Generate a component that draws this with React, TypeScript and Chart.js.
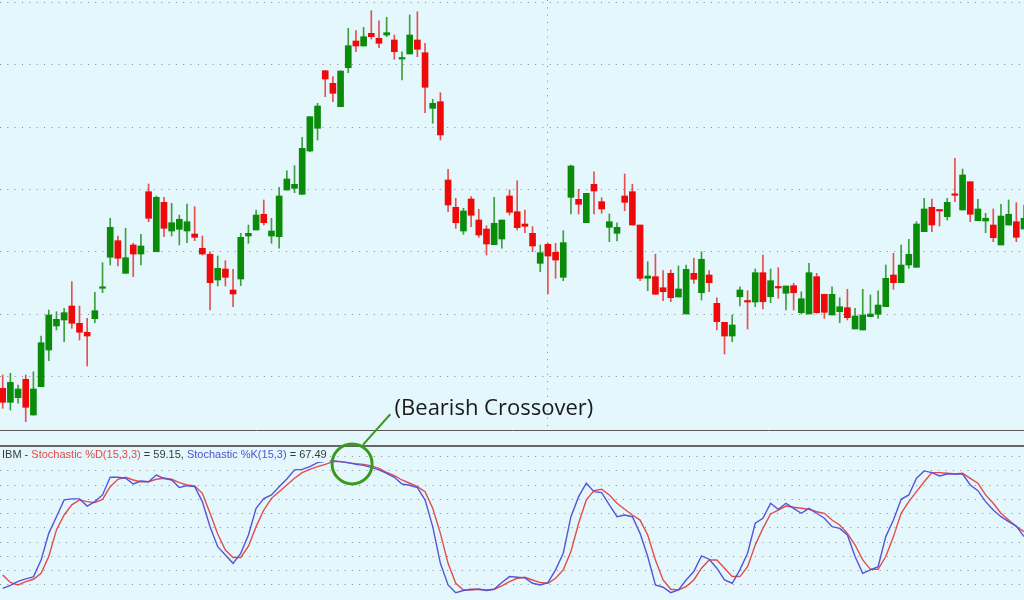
import React, { useEffect, useRef } from 'react';
import { Chart, registerables } from 'chart.js';

Chart.register(...registerables);

// ---------- data ----------
const opens = [
  98.14, 95.9, 96.64, 99.58, 93.86, 98.4, 104.28, 108.13, 109.09, 111.33,
  108.56, 107.12, 109.3, 114.17, 119.14, 121.8, 116.57, 121.11, 119.66, 129.65,
  120.03, 127.95, 123.35, 123.62, 123.35, 122.87, 120.58, 119.62, 115.5, 117.26,
  113.9, 115.66, 122.55, 123.51, 126.03, 122.55, 122.44, 129.92, 130.19, 129.23,
  136.17, 139.81, 149.04, 147.02, 143.27, 149.52, 153.8, 153.0, 155.03, 154.23,
  154.76, 153.96, 150.91, 151.72, 153.96, 151.92, 143.01, 144.07, 131.52, 127.15,
  123.35, 128.48, 125.11, 123.67, 121.16, 122.07, 128.96, 126.44, 124.47, 122.98,
  118.17, 121.22, 119.94, 115.93, 128.75, 128.43, 124.68, 130.83, 128.05, 123.94,
  122.98, 128.96, 129.65, 124.31, 115.77, 116.03, 114.26, 116.57, 112.77, 110.05,
  116.57, 113.46, 116.3, 111.76, 108.72, 106.52, 112.82, 112.13, 111.97, 116.67,
  112.82, 114.42, 113.37, 114.58, 110.26, 110.05, 116.03, 113.21, 109.89, 110.42,
  111.06, 107.65, 107.49, 109.62, 110.0, 111.22, 116.3, 115.07, 117.9, 117.53,
  123.24, 127.15, 126.72, 125.64, 129.28, 126.72, 131.25, 125.0, 124.95, 124.31,
  121.11, 124.31, 124.84, 123.67,
];
const highs = [
  100.27, 100.55, 98.67, 100.27, 100.8, 106.52, 110.69, 110.42, 110.96, 115.23,
  111.33, 109.36, 113.53, 118.27, 125.39, 122.55, 123.78, 121.38, 122.82, 130.88,
  128.96, 128.75, 127.79, 125.91, 127.68, 127.24, 122.55, 120.03, 119.34, 118.59,
  117.21, 122.98, 124.31, 126.72, 128.32, 125.39, 130.35, 133.01, 133.82, 138.37,
  141.67, 143.82, 149.04, 148.08, 148.99, 155.83, 155.45, 155.99, 158.66, 157.05,
  157.6, 154.76, 152.08, 157.97, 158.49, 153.43, 144.46, 145.51, 133.24, 128.59,
  126.99, 128.85, 126.83, 124.2, 128.75, 125.11, 129.92, 131.41, 126.72, 124.04,
  121.11, 121.38, 121.38, 123.4, 133.93, 130.03, 129.39, 132.85, 128.69, 126.08,
  124.68, 132.49, 130.83, 124.31, 118.43, 119.62, 116.99, 117.1, 117.74, 117.9,
  118.98, 120.03, 116.99, 112.66, 108.72, 109.89, 114.42, 113.78, 117.26, 119.5,
  117.26, 117.47, 114.54, 114.97, 113.62, 118.18, 116.57, 113.21, 114.42, 112.66,
  114.01, 110.96, 114.01, 113.09, 113.78, 117.9, 119.78, 121.11, 122.02, 124.84,
  128.59, 128.48, 126.72, 128.59, 135.0, 133.29, 131.25, 128.43, 126.19, 126.88,
  127.63, 128.32, 127.89, 127.52,
];
const lows = [
  94.94, 94.66, 95.74, 92.79, 93.86, 98.4, 102.57, 107.49, 105.61, 107.76,
  105.88, 101.72, 108.66, 113.46, 117.9, 117.74, 116.57, 116.03, 117.9, 124.84,
  120.03, 122.44, 122.55, 121.11, 121.48, 121.8, 119.5, 110.69, 114.54, 114.54,
  111.22, 114.58, 121.38, 123.51, 124.31, 121.38, 120.58, 129.92, 129.49, 129.23,
  136.06, 137.93, 144.87, 144.07, 143.27, 148.72, 152.08, 153.0, 154.12, 152.73,
  154.49, 150.87, 147.55, 151.72, 151.28, 142.31, 140.61, 137.93, 126.44, 123.78,
  122.82, 124.04, 122.34, 119.5, 121.16, 120.58, 125.91, 123.51, 123.08, 120.03,
  116.83, 113.25, 115.77, 115.39, 126.08, 126.08, 124.68, 126.08, 126.19, 121.64,
  121.75, 126.6, 124.31, 115.39, 113.78, 113.21, 112.18, 112.02, 112.77, 110.05,
  114.97, 112.29, 113.62, 107.49, 103.64, 105.61, 111.33, 107.65, 111.22, 110.85,
  111.86, 112.57, 110.69, 110.69, 110.05, 110.05, 110.16, 109.36, 109.89, 108.66,
  109.09, 107.65, 107.49, 109.62, 109.36, 111.22, 114.01, 115.07, 117.37, 117.53,
  123.24, 123.24, 124.15, 125.11, 128.05, 126.72, 124.84, 125.0, 123.08, 121.64,
  121.11, 124.31, 121.64, 123.67,
];
const closes = [
  95.9, 99.1, 98.03, 95.1, 98.03, 105.45, 109.89, 109.2, 110.26, 108.56,
  107.12, 106.52, 110.58, 114.33, 123.94, 118.98, 119.07, 119.66, 120.95, 125.39,
  128.75, 123.78, 124.68, 125.23, 124.84, 122.34, 119.66, 115.07, 117.37, 115.93,
  113.25, 122.34, 122.98, 125.91, 124.68, 123.35, 128.96, 131.68, 130.83, 136.6,
  141.67, 143.38, 147.71, 145.42, 148.99, 153.05, 153.0, 154.49, 154.49, 153.43,
  155.13, 152.08, 151.12, 154.76, 152.47, 146.38, 143.82, 138.74, 127.52, 124.68,
  126.56, 125.87, 122.71, 121.27, 124.59, 125.11, 126.35, 123.88, 124.1, 120.95,
  119.87, 119.34, 118.7, 121.48, 133.77, 127.63, 129.39, 129.76, 126.88, 124.84,
  123.94, 127.95, 124.31, 115.77, 116.14, 113.21, 113.62, 112.66, 114.06, 117.21,
  115.61, 118.82, 115.07, 108.82, 106.52, 108.29, 113.9, 111.97, 116.67, 112.02,
  115.39, 114.22, 114.54, 113.46, 112.5, 116.67, 110.26, 110.32, 113.21, 111.22,
  109.46, 109.73, 109.89, 110.05, 111.49, 115.77, 115.07, 117.9, 119.62, 124.47,
  126.88, 124.31, 126.56, 127.95, 129.07, 132.33, 126.03, 126.88, 125.39, 122.28,
  125.75, 126.03, 122.34, 125.39,
];

const stochK = [
  7.4, 9.5, 12.3, 14.1, 15.5, 27.4, 46.1, 57.8, 69.6, 70.3,
  70.3, 65.3, 68.4, 73.1, 85.5, 85.5, 84.8, 80.8, 82.9, 82.4,
  87.1, 84.8, 83.6, 78.4, 79.6, 78.9, 68.4, 50.8, 36.7, 30.9,
  25.0, 32.0, 44.9, 63.7, 70.5, 73.1, 78.9, 84.3, 90.7, 91.1,
  93.0, 95.8, 96.7, 97.2, 96.5, 95.8, 94.6, 93.9, 92.5, 90.7,
  88.3, 85.5, 80.8, 79.9, 78.2, 69.6, 50.8, 25.0, 9.8, 4.4,
  5.9, 6.8, 6.8, 5.9, 6.8, 11.5, 15.7, 15.2, 14.8, 11.0,
  9.8, 11.5, 20.4, 32.1, 57.8, 71.9, 81.3, 75.4, 74.7, 66.1,
  57.8, 59.0, 57.8, 46.1, 29.8, 9.8, 8.2, 4.4, 6.3, 13.3,
  19.2, 30.2, 27.9, 21.6, 13.3, 11.0, 20.4, 32.1, 53.2, 56.7,
  67.2, 63.0, 67.2, 63.7, 60.2, 63.7, 60.2, 56.7, 50.8, 49.6,
  45.0, 29.8, 18.0, 20.4, 22.7, 43.8, 55.5, 70.0, 73.1, 84.8,
  90.0, 88.8, 86.4, 87.8, 87.8, 87.8, 80.1, 76.1, 68.4, 62.5,
  57.8, 54.3, 51.2, 43.8,
];
const stochD = [
  16.8, 11.6, 9.8, 12.1, 13.8, 18.0, 29.8, 48.5, 59.0, 66.1,
  69.6, 68.4, 67.7, 70.0, 78.9, 84.1, 85.5, 83.6, 82.4, 82.4,
  84.1, 84.8, 84.1, 81.7, 80.1, 79.4, 74.2, 60.2, 45.6, 34.3,
  29.1, 29.1, 37.1, 50.8, 62.5, 70.7, 75.4, 80.1, 84.8, 88.8,
  91.1, 93.0, 94.6, 96.5, 96.5, 95.6, 95.1, 94.6, 93.5, 91.8,
  89.0, 86.6, 83.6, 81.3, 78.9, 75.4, 63.7, 46.1, 25.0, 11.0,
  6.3, 6.3, 6.8, 6.3, 6.8, 9.1, 12.1, 14.5, 15.2, 13.3,
  11.5, 11.0, 14.5, 20.4, 33.3, 53.2, 69.6, 76.1, 77.1, 73.1,
  67.2, 63.0, 59.0, 55.4, 44.9, 27.4, 13.3, 6.8, 6.3, 8.7,
  13.3, 21.6, 27.4, 27.4, 21.6, 15.7, 15.7, 22.7, 37.9, 49.6,
  59.7, 62.5, 65.3, 64.4, 63.7, 63.0, 61.3, 60.2, 55.5, 52.0,
  46.1, 37.9, 27.4, 20.8, 20.8, 29.8, 43.8, 60.2, 68.4, 75.4,
  82.4, 88.8, 88.8, 88.3, 87.8, 88.3, 84.8, 81.3, 73.1, 67.2,
  60.2, 55.5, 50.8, 47.3,
];

const priceGridTicks = [100, 110, 120, 130, 140, 150, 160];
const stochGridTicks = [10, 20, 30, 40, 50, 60, 70, 80, 90, 100];
const periodBreakIndex = [71];

const legendParts = [
  { text: 'IBM - ', color: '#3a3a3a' },
  { text: 'Stochastic %D(15,3,3)', color: '#e24a4a' },
  { text: ' = 59.15, ', color: '#3a3a3a' },
  { text: 'Stochastic %K(15,3)', color: '#5252cf' },
  { text: ' = 67.49', color: '#3a3a3a' },
];
const annotationText = '(Bearish Crossover)';
const crossoverAt = { index: 45.5, value: 94.9 };

// ---------- styling ----------
const BG = '#e3f7fc';
const DOT = '#8f8585';
const DASH = [1, 6.33];
const X_MIN = -0.352;
const X_MAX = 133.0;
const UP = '#0a8c0a';
const DOWN = '#ee0a0a';
const UP_WICK = '#3f9e3f';
const DOWN_WICK = '#e45050';
const ANN_GREEN = '#3b9a1b';

const idx = opens.map((_, i) => i);

const stochOverlay = {
  id: 'stochOverlay',
  afterDatasetsDraw(chart: any) {
    const { ctx, chartArea, scales } = chart;
    ctx.save();
    ctx.font = '11px "Liberation Sans", Arial, sans-serif';
    ctx.textBaseline = 'alphabetic';
    let total = 0;
    legendParts.forEach((p) => (total += ctx.measureText(p.text).width));
    ctx.fillStyle = BG;
    ctx.fillRect(0, chartArea.top + 1, total + 5, 15);
    let x = 2;
    legendParts.forEach((p) => {
      ctx.fillStyle = p.color;
      ctx.fillText(p.text, x, chartArea.top + 11.5);
      x += ctx.measureText(p.text).width;
    });

    const cx = scales.x.getPixelForValue(crossoverAt.index);
    const cy = scales.y.getPixelForValue(crossoverAt.value);
    ctx.strokeStyle = ANN_GREEN;
    ctx.lineWidth = 3;
    ctx.beginPath();
    ctx.arc(cx, cy, 20, 0, Math.PI * 2);
    ctx.stroke();
    ctx.lineWidth = 2;
    ctx.beginPath();
    ctx.moveTo(cx + 10.8, cy - 19);
    ctx.lineTo(cx + 38.2, cy - 49.7);
    ctx.stroke();
    ctx.font = '22px "Open Sans", sans-serif';
    ctx.fillStyle = '#1a1a1a';
    ctx.fillText(annotationText, cx + 42.5, cy - 49.2);
    ctx.restore();
  },
};

export default function App() {
  const topRef = useRef<HTMLCanvasElement>(null);
  const botRef = useRef<HTMLCanvasElement>(null);

  useEffect(() => {
    const bodyColors = idx.map((i) => (closes[i] >= opens[i] ? UP : DOWN));
    const wickColors = idx.map((i) => (closes[i] >= opens[i] ? UP_WICK : DOWN_WICK));

    const top = new Chart(topRef.current as HTMLCanvasElement, {
      type: 'bar',
      data: {
        datasets: [
          {
            label: 'body',
            data: idx.map((i) => ({ x: i, y: [Math.min(opens[i], closes[i]), Math.max(opens[i], closes[i])] })) as any,
            backgroundColor: bodyColors,
            barThickness: 6,
            minBarLength: 1.5,
            grouped: false,
            borderWidth: 0,
          } as any,
          {
            label: 'wick',
            data: idx.map((i) => ({ x: i, y: [lows[i], highs[i]] })) as any,
            backgroundColor: wickColors,
            barThickness: 1,
            grouped: false,
            borderWidth: 0,
          } as any,
        ],
      },
      options: {
        animation: false,
        responsive: false,
        maintainAspectRatio: false,
        layout: { padding: { left: 0, right: 0, top: 0, bottom: 1 } },
        plugins: { legend: { display: false }, tooltip: { enabled: false } },
        scales: {
          x: {
            type: 'linear',
            min: X_MIN,
            max: X_MAX,
            offset: false,
            position: 'bottom',
            ticks: { display: false },
            afterBuildTicks: (s: any) => {
              s.ticks = periodBreakIndex.map((v) => ({ value: v }));
            },
            grid: { color: DOT, lineWidth: 1, drawTicks: false, offset: false },
            border: { display: true, color: '#5a5a5a', width: 1, dash: DASH },
          },
          y: {
            type: 'linear',
            min: 91.46,
            max: 160.37,
            ticks: { display: false },
            afterBuildTicks: (s: any) => {
              s.ticks = priceGridTicks.map((v) => ({ value: v }));
            },
            grid: { color: DOT, lineWidth: 1, drawTicks: false },
            border: { display: false, dash: DASH },
          },
        },
      } as any,
    });

    const bot = new Chart(botRef.current as HTMLCanvasElement, {
      type: 'line',
      data: {
        datasets: [
          {
            label: '%K',
            data: idx.map((i) => ({ x: i, y: stochK[i] })),
            borderColor: '#5555d8',
            borderWidth: 1.4,
            pointRadius: 0,
            tension: 0,
          },
          {
            label: '%D',
            data: idx.map((i) => ({ x: i, y: stochD[i] })),
            borderColor: '#e54b4b',
            borderWidth: 1.4,
            pointRadius: 0,
            tension: 0,
          },
        ],
      },
      options: {
        animation: false,
        responsive: false,
        maintainAspectRatio: false,
        layout: { padding: { left: 0, right: 0, top: 66, bottom: 0 } },
        plugins: { legend: { display: false }, tooltip: { enabled: false } },
        scales: {
          x: {
            type: 'linear',
            min: X_MIN,
            max: X_MAX,
            offset: false,
            position: 'top',
            ticks: { display: false },
            grid: { display: false, drawTicks: false },
            border: { display: true, color: '#666666', width: 2 },
          },
          y: {
            type: 'linear',
            min: -0.77,
            max: 107.5,
            ticks: { display: false },
            afterBuildTicks: (s: any) => {
              s.ticks = stochGridTicks.map((v) => ({ value: v }));
            },
            grid: { color: DOT, lineWidth: 1, drawTicks: false },
            border: { display: false, dash: DASH },
          },
        },
      } as any,
      plugins: [stochOverlay],
    });

    return () => {
      top.destroy();
      bot.destroy();
    };
  }, []);

  return (
    <div
      style={{
        position: 'fixed',
        left: 0,
        top: 0,
        width: 1024,
        height: 600,
        background: BG,
        overflow: 'hidden',
      }}
    >
      <canvas
        ref={topRef}
        width={1024}
        height={431}
        style={{ position: 'absolute', left: 0, top: 0, width: 1024, height: 431 }}
      />
      <canvas
        ref={botRef}
        width={1024}
        height={220}
        style={{ position: 'absolute', left: 0, top: 380, width: 1024, height: 220 }}
      />
    </div>
  );
}
